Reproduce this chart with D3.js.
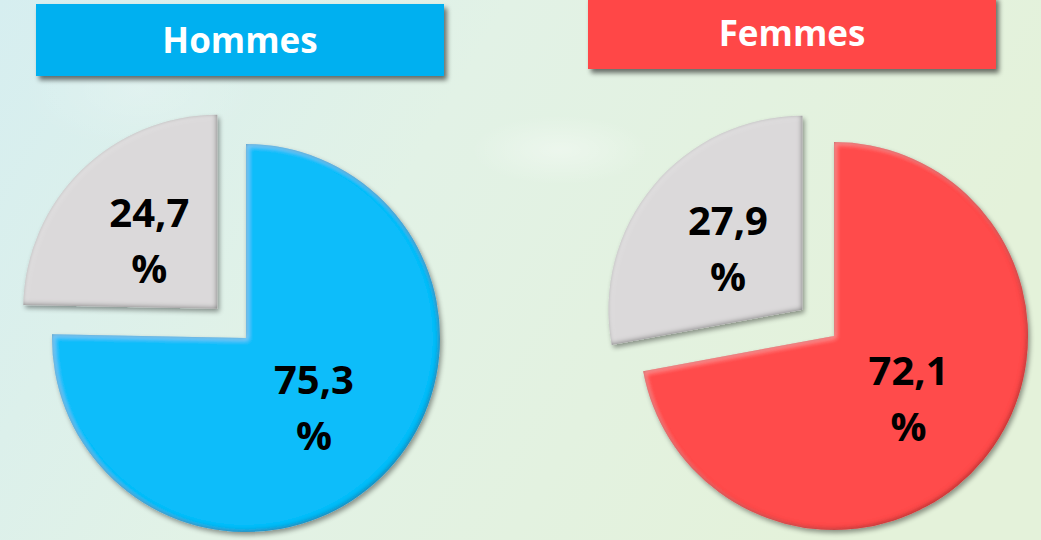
<!DOCTYPE html>
<html><head><meta charset="utf-8">
<script src="https://cdn.jsdelivr.net/npm/d3@7"></script>
<style>html,body{margin:0;padding:0;overflow:hidden;background:#dff0ea}</style>
</head><body>
<svg id="chart" width="1041" height="540"></svg>
<script>
// ---- data ----
const groups = ["Hommes", "Femmes"];
const categories = ["Oui", "Non"];
const hommesValues = [75.3, 24.7];
const femmesValues = [72.1, 27.9];
const labelsHommes = ["75,3", "24,7"];
const labelsFemmes = ["72,1", "27,9"];

const svg = d3.select("#chart");
const W = 1041, H = 540;
const defs = svg.append("defs");

// background
const bg = defs.append("linearGradient").attr("id","bg").attr("x1","0").attr("y1","0").attr("x2","1").attr("y2","0.3");
bg.append("stop").attr("offset","0").attr("stop-color","#d6eef0");
bg.append("stop").attr("offset","0.45").attr("stop-color","#e2f2e6");
bg.append("stop").attr("offset","1").attr("stop-color","#e4f2da");
svg.append("rect").attr("width",W).attr("height",H).attr("fill","url(#bg)");
const cloud = defs.append("radialGradient").attr("id","cloud");
cloud.append("stop").attr("offset","0").attr("stop-color","#ffffff").attr("stop-opacity",0.35);
cloud.append("stop").attr("offset","1").attr("stop-color","#ffffff").attr("stop-opacity",0);
svg.append("ellipse").attr("cx",560).attr("cy",150).attr("rx",90).attr("ry",35).attr("fill","url(#cloud)");
svg.append("ellipse").attr("cx",140).attr("cy",90).attr("rx",120).attr("ry",60).attr("fill","url(#cloud)").attr("opacity",0.5);

// filters
const sh = defs.append("filter").attr("id","boxshadow").attr("x","-10%").attr("y","-20%").attr("width","130%").attr("height","160%");
sh.append("feGaussianBlur").attr("in","SourceAlpha").attr("stdDeviation",2.5).attr("result","b");
sh.append("feOffset").attr("in","b").attr("dx",3).attr("dy",4).attr("result","o");
sh.append("feComponentTransfer").attr("in","o").attr("result","o2").append("feFuncA").attr("type","linear").attr("slope",0.55);
const m1 = sh.append("feMerge"); m1.append("feMergeNode").attr("in","o2"); m1.append("feMergeNode").attr("in","SourceGraphic");

function bevel(id, dark) {
  const f = defs.append("filter").attr("id",id).attr("x","-10%").attr("y","-10%").attr("width","125%").attr("height","125%");
  f.append("feGaussianBlur").attr("in","SourceAlpha").attr("stdDeviation",2.5).attr("result","ob");
  f.append("feOffset").attr("in","ob").attr("dx",2).attr("dy",3).attr("result","oo");
  f.append("feComponentTransfer").attr("in","oo").attr("result","os").append("feFuncA").attr("type","linear").attr("slope",0.4);
  f.append("feComponentTransfer").attr("in","SourceAlpha").attr("result","inv").append("feFuncA").attr("type","table").attr("tableValues","1 0");
  f.append("feGaussianBlur").attr("in","inv").attr("stdDeviation",2.5).attr("result","ib");
  f.append("feOffset").attr("in","ib").attr("dx",-1.5).attr("dy",-1.5).attr("result","ibo");
  f.append("feFlood").attr("flood-color",dark).attr("flood-opacity",1);
  f.append("feComposite").attr("in2","ibo").attr("operator","in").attr("result","ds");
  f.append("feComposite").attr("in","ds").attr("in2","SourceAlpha").attr("operator","in").attr("result","darkEdge");
  f.append("feOffset").attr("in","ib").attr("dx",2).attr("dy",2).attr("result","ibl");
  f.append("feFlood").attr("flood-color","#ffffff").attr("flood-opacity",0.3);
  f.append("feComposite").attr("in2","ibl").attr("operator","in").attr("result","ls");
  f.append("feComposite").attr("in","ls").attr("in2","SourceAlpha").attr("operator","in").attr("result","lightEdge");
  const m = f.append("feMerge");
  m.append("feMergeNode").attr("in","os");
  m.append("feMergeNode").attr("in","SourceGraphic");
  m.append("feMergeNode").attr("in","lightEdge");
  m.append("feMergeNode").attr("in","darkEdge");
}
bevel("bevBlue", "#0a6f99");
bevel("bevRed", "#a32020");
bevel("bevGray", "#7d7d7d");

const panels = [
  {name: groups[0], values: hommesValues, labels: labelsHommes, cx: 246, cy: 338,
   color: "#07bdfa", boxColor: "#00b0f0", filt: "bevBlue", box: [36, 4, 408, 72], ty: 53},
  {name: groups[1], values: femmesValues, labels: labelsFemmes, cx: 834, cy: 336,
   color: "#ff4b4b", boxColor: "#ff4747", filt: "bevRed", box: [588, -4, 408, 73], ty: 46}
];

const R = 194, explode = 41;
const pie = d3.pie().sort(null).value(d => d.v);
const arc = d3.arc().innerRadius(0).outerRadius(R);

panels.forEach(p => {
  svg.append("rect").attr("x",p.box[0]).attr("y",p.box[1]).attr("width",p.box[2]).attr("height",p.box[3])
    .attr("fill",p.boxColor).attr("filter","url(#boxshadow)");
  svg.append("text").attr("x",p.box[0]+p.box[2]/2).attr("y",p.ty).attr("text-anchor","middle")
    .attr("font-family","'Open Sans', sans-serif").attr("font-weight",700).attr("font-size",35)
    .attr("fill","#ffffff").text(p.name);

  const data = pie(p.values.map((v,i)=>({v, cat: categories[i], label: p.labels[i]})));
  const g = svg.append("g").attr("transform",`translate(${p.cx},${p.cy})`);
  const sl = g.selectAll("g.slice").data(data).join("g").attr("class","slice")
    .attr("transform", (d,i) => {
      if (i === 0) return null;
      const a = (d.startAngle + d.endAngle)/2;
      return `translate(${Math.sin(a)*explode},${-Math.cos(a)*explode})`;
    });
  sl.append("path").attr("d", arc)
    .attr("fill", (d,i) => i === 0 ? p.color : "#dbd9da")
    .attr("filter", (d,i) => i === 0 ? `url(#${p.filt})` : "url(#bevGray)");
  const t = sl.append("text").attr("text-anchor","middle")
    .attr("font-family","'Open Sans', sans-serif").attr("font-weight",700).attr("font-size",40)
    .attr("fill","#000000")
    .attr("transform", d => { const c = arc.centroid(d); return `translate(${c[0]},${c[1]})`; });
  t.append("tspan").attr("x",0).attr("y",-13).text(d => d.data.label);
  t.append("tspan").attr("x",0).attr("y",43).text("%");
});
</script>
</body></html>
